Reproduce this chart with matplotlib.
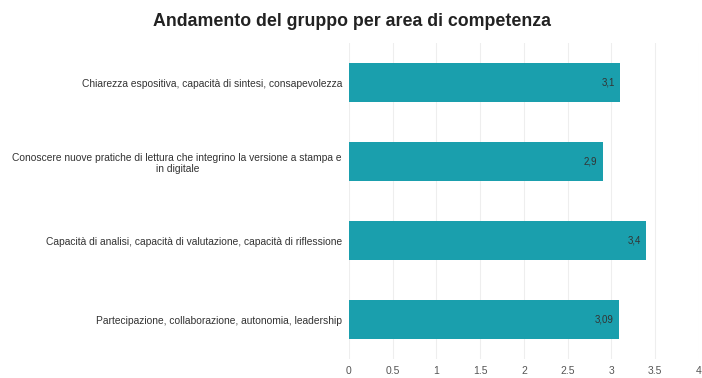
import matplotlib.pyplot as plt

# competence areas, top to bottom
aree = [
    "Chiarezza espositiva, capacità di sintesi, consapevolezza",
    "Conoscere nuove pratiche di lettura che integrino la versione a stampa e\nin digitale",
    "Capacità di analisi, capacità di valutazione, capacità di riflessione",
    "Partecipazione, collaborazione, autonomia, leadership",
]
punteggi = [3.1, 2.9, 3.4, 3.09]
etichette = ["3,1", "2,9", "3,4", "3,09"]

x_ticks = [0, 0.5, 1, 1.5, 2, 2.5, 3, 3.5, 4]
x_tick_labels = ["0", "0.5", "1", "1.5", "2", "2.5", "3", "3.5", "4"]

plt.rcParams["font.family"] = ["Liberation Sans", "DejaVu Sans"]

fig = plt.figure(figsize=(7.02, 3.78), dpi=100)
ax = fig.add_axes([0.497, 0.05, 0.4986, 0.836])

pos = list(range(len(aree)))
ax.barh(pos, punteggi, height=0.5, color="#1a9fad", zorder=2)

for y, v, t in zip(pos, punteggi, etichette):
    ax.text(v - 0.06, y, t, ha="right", va="center", fontsize=7, color="#333333", zorder=3)

ax.set_yticks(pos)
ax.set_yticklabels(aree, fontsize=7.4, color="#333333", multialignment="center")
ax.set_ylim(len(aree) - 0.5, -0.5)

ax.set_xlim(0, 4)
ax.set_xticks(x_ticks)
ax.set_xticklabels(x_tick_labels, fontsize=7.5, color="#555555")
ax.tick_params(axis="y", length=0, pad=5)
ax.tick_params(axis="x", length=0, pad=5)

ax.grid(axis="x", color="#eeeeee", linewidth=0.8, zorder=0)
for s in ax.spines.values():
    s.set_visible(False)

fig.suptitle("Andamento del gruppo per area di competenza", x=0.502, y=0.965,
             fontsize=12.8, fontweight="bold", color="#222222")

fig.savefig("out.png", dpi=100)
